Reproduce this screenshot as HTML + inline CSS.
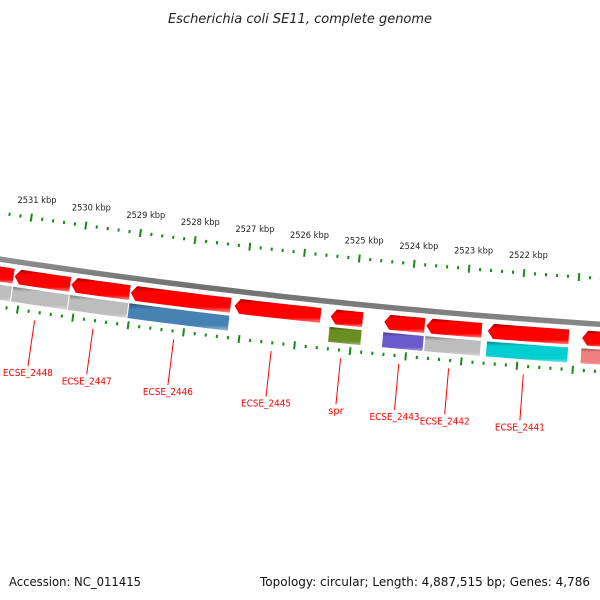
<!DOCTYPE html>
<html><head><meta charset="utf-8"><style>
body{margin:0;background:#fff;}
svg{display:block;font-family:"DejaVu Sans","Liberation Sans",sans-serif;}
</style></head><body>
<svg id="map" width="600" height="600" viewBox="0 0 600 600" xmlns="http://www.w3.org/2000/svg">
<defs>
<linearGradient id="gRed" x1="0" y1="0" x2="0" y2="1">
<stop offset="0" stop-color="#a00000"/><stop offset="0.22" stop-color="#ff0000"/><stop offset="0.78" stop-color="#ff0000"/><stop offset="1" stop-color="#ff8c8c"/>
</linearGradient>
<linearGradient id="gShade" x1="0" y1="0" x2="0" y2="1">
<stop offset="0" stop-color="#000" stop-opacity="0.35"/><stop offset="0.22" stop-color="#000" stop-opacity="0"/><stop offset="0.8" stop-color="#fff" stop-opacity="0"/><stop offset="1" stop-color="#fff" stop-opacity="0.45"/>
</linearGradient>
<linearGradient id="gBack" x1="0" y1="0" x2="0" y2="1">
<stop offset="0" stop-color="#a0a0a0"/><stop offset="0.5" stop-color="#707070"/><stop offset="1" stop-color="#8a8a8a"/>
</linearGradient>
</defs>
<text x="300" y="23" text-anchor="middle" font-size="13" font-style="italic" fill="#222">Escherichia coli SE11, complete genome</text>
<g id="layer"></g>
<text x="9" y="586" font-size="12" fill="#111" textLength="132" lengthAdjust="spacingAndGlyphs">Accession: NC_011415</text>
<text x="260" y="586" font-size="12" fill="#111" textLength="330" lengthAdjust="spacingAndGlyphs">Topology: circular; Length: 4,887,515 bp; Genes: 4,786</text>
</svg>
<script>
// data (kbp)
const geneNames = ["g0","ECSE_2448","ECSE_2447","ECSE_2446","ECSE_2445","spr","ECSE_2443","ECSE_2442","ECSE_2441","g_next"];
const geneStart = [2531.76,2531.14,2530.11,2529.03,2527.15,2525.41,2524.44,2523.68,2522.57,2520.87];
const geneEnd   = [2531.16,2530.13,2529.05,2527.22,2525.59,2524.83,2523.71,2522.68,2521.11,2520.20];
const cogColor  = ["#bdbdbd","#bdbdbd","#bdbdbd","#4682b4",null,"#6b8e23","#6a5acd","#bdbdbd","#00ced1","#f08080"];
const labeled   = [false,true,true,true,true,true,true,true,true,false];
const tickKbp = [2532,2531,2530,2529,2528,2527,2526,2525,2524,2523,2522,2521,2520];
const tickLabeled = [false,true,true,true,true,true,true,true,true,true,true,false,false];

const CX=1040, CY=-6529.4, K=0.008077, T0=0.06763, B0=2521;
function ang(k){return T0+(k-B0)*K;}
function pt(k,r){const t=ang(k);return [CX-r*Math.sin(t), CY+r*Math.cos(t)];}
const L=document.getElementById('layer');
const NS="http://www.w3.org/2000/svg";
function mk(tag,attrs){const e=document.createElementNS(NS,tag);for(const a in attrs)e.setAttribute(a,attrs[a]);L.appendChild(e);return e;}
function arcPts(k1,k2,r,n){const p=[];for(let i=0;i<=n;i++){p.push(pt(k1+(k2-k1)*i/n,r));}return p;}
function polyStr(p){return p.map(q=>q[0].toFixed(2)+","+q[1].toFixed(2)).join(" ");}

// backbone
{
 const p=arcPts(2533,2519,6865,40).concat(arcPts(2519,2533,6870.5,40));
 const e=mk('polygon',{points:polyStr(p),fill:'url(#gBack)'});
 
 
}
// ticks
function drawTicks(r,name){
 for(let k10=2533*5;k10>=2519*5;k10--){
  const k=k10/5;const major=(k10%5===0);
  const h=major?4:1.6;
  const a=pt(k,r-h),b=pt(k,r+h);
  const e=mk('line',{x1:a[0],y1:a[1],x2:b[0],y2:b[1],stroke:'#1a8a1a','stroke-width':2});
  
  
 }
}
drawTicks(6822,'outer');
drawTicks(6915,'inner');
tickKbp.forEach((k,i)=>{
 if(!tickLabeled[i])return;
 const p=pt(k,6804);
 const e=mk('text',{x:p[0]+3,y:p[1]+3,'text-anchor':'middle','font-size':8.5,fill:'#222',textLength:39,lengthAdjust:'spacingAndGlyphs'});
 e.textContent=k+" kbp";
 
 
});
// genes
geneNames.forEach((n,i)=>{
 const s=geneStart[i],en=geneEnd[i];
 const r1=6875,r2=6890,rm=(r1+r2)/2,head=0.1;
 const p=[pt(s,rm)].concat(arcPts(s-head,en,r1,8)).concat(arcPts(en,s-head,r2,8));
 const e=mk('polygon',{points:polyStr(p),fill:'url(#gRed)'});
 
 
 if(cogColor[i]){
  const q=arcPts(s,en,6893,8).concat(arcPts(en,s,6908,8));
  const c=mk('polygon',{points:polyStr(q),fill:cogColor[i]});
  
  
  const o=mk('polygon',{points:polyStr(q),fill:'url(#gShade)'});
  
  
 }
 if(labeled[i]){
  const m=(s+en)/2;const a=pt(m,6923),b=pt(m,6969);
  const l=mk('line',{x1:a[0]-2,y1:a[1],x2:b[0]-2,y2:b[1],stroke:'#ff0000','stroke-width':1});
  
  
  const attrs={x:b[0]-2,y:b[1]+10,'text-anchor':'middle','font-size':10,fill:'#ff0000'};
  if(n.length>4){attrs.textLength=50;attrs.lengthAdjust='spacingAndGlyphs';}
  const t=mk('text',attrs);
  t.textContent=n;
  
  
 }
});
</script>
</body></html>
